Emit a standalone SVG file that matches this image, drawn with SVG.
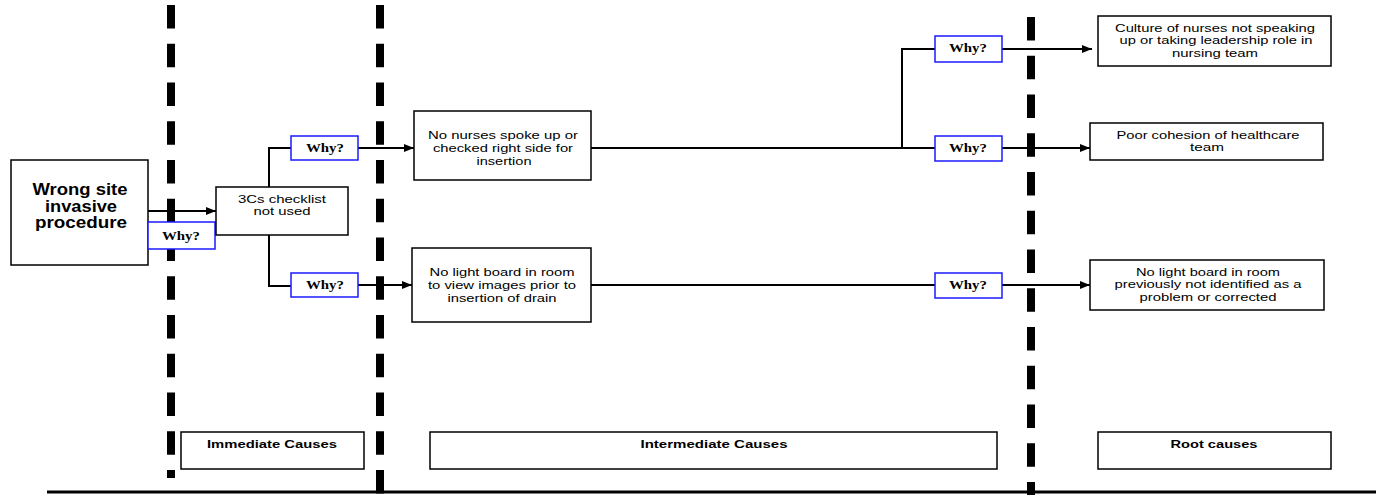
<svg xmlns="http://www.w3.org/2000/svg" width="1376" height="495" viewBox="0 0 1376 495">
<style>
.box{fill:#fff;stroke:#000;stroke-width:1.5}
.why{fill:#fff;stroke:#1a1aff;stroke-width:1.5}
.t{font-family:"Liberation Sans",Arial,sans-serif;font-size:11.5px;fill:#000;text-anchor:middle}
.tb{font-family:"Liberation Sans",Arial,sans-serif;font-size:11.5px;font-weight:bold;fill:#000;text-anchor:middle}
.main{font-family:"Liberation Sans",Arial,sans-serif;font-size:16px;font-weight:bold;fill:#000;text-anchor:middle}
.w{font-family:"Liberation Serif","Times New Roman",serif;font-size:12px;font-weight:bold;fill:#000;text-anchor:middle}
.c{fill:none;stroke:#000;stroke-width:2}
.dash{stroke:#000;stroke-width:8;stroke-dasharray:23.5 15.25}
</style>
<defs>
<marker id="ah" markerWidth="10" markerHeight="8" refX="10" refY="4" orient="auto" markerUnits="userSpaceOnUse">
<path d="M0,0 L10,4 L0,8 Z" fill="#000"/>
</marker>
</defs>
<rect width="1376" height="495" fill="#fff"/>
<g id="dividers">
<line class="dash" x1="171" y1="5" x2="171" y2="478"/>
<line class="dash" x1="380" y1="5" x2="380" y2="495"/>
<line class="dash" x1="1031" y1="17" x2="1031" y2="495"/>
<line x1="47" y1="492" x2="1376" y2="492" stroke="#000" stroke-width="3"/>
</g>
<g id="connectors">
<line class="c" x1="148" y1="211" x2="216" y2="211" marker-end="url(#ah)"/>
<polyline class="c" points="291,148 269,148 269,286 291,286"/>
<line class="c" x1="358" y1="148" x2="414" y2="148" marker-end="url(#ah)"/>
<line class="c" x1="358" y1="285" x2="412" y2="285" marker-end="url(#ah)"/>
<line class="c" x1="591" y1="148" x2="935" y2="148"/>
<polyline class="c" points="902,148 902,49 935,49"/>
<line class="c" x1="1002" y1="49" x2="1092" y2="49" marker-end="url(#ah)"/>
<line class="c" x1="1002" y1="148" x2="1090" y2="148" marker-end="url(#ah)"/>
<line class="c" x1="591" y1="285" x2="935" y2="285"/>
<line class="c" x1="1002" y1="285" x2="1090" y2="285" marker-end="url(#ah)"/>
</g>
<g id="n-wrong">
<rect class="box" x="11" y="160" width="137" height="105"/>
<text class="main" x="80" y="195" textLength="95" lengthAdjust="spacingAndGlyphs">Wrong site</text>
<text class="main" x="81" y="212" textLength="72" lengthAdjust="spacingAndGlyphs">invasive</text>
<text class="main" x="81" y="228" textLength="92" lengthAdjust="spacingAndGlyphs">procedure</text>
</g>
<g id="why1">
<rect class="why" x="148" y="222" width="67" height="27"/>
<text class="w" x="181" y="240" textLength="38" lengthAdjust="spacingAndGlyphs">Why?</text>
</g>
<g id="n-3cs">
<rect class="box" x="216" y="187" width="132" height="48"/>
<text class="t" x="282" y="203" textLength="88" lengthAdjust="spacingAndGlyphs">3Cs checklist</text>
<text class="t" x="282" y="215" textLength="57" lengthAdjust="spacingAndGlyphs">not used</text>
</g>
<g id="why2">
<rect class="why" x="291" y="136" width="67" height="24"/>
<text class="w" x="325" y="152" textLength="38" lengthAdjust="spacingAndGlyphs">Why?</text>
</g>
<g id="why3">
<rect class="why" x="291" y="273" width="67" height="24"/>
<text class="w" x="325" y="289" textLength="38" lengthAdjust="spacingAndGlyphs">Why?</text>
</g>
<g id="n-nurses">
<rect class="box" x="414" y="111" width="177" height="69"/>
<text class="t" x="503" y="139" textLength="150" lengthAdjust="spacingAndGlyphs">No nurses spoke up or</text>
<text class="t" x="503" y="152" textLength="140" lengthAdjust="spacingAndGlyphs">checked right side for</text>
<text class="t" x="504" y="165" textLength="55" lengthAdjust="spacingAndGlyphs">insertion</text>
</g>
<g id="n-light">
<rect class="box" x="412" y="248" width="179" height="74"/>
<text class="t" x="502" y="276" textLength="145" lengthAdjust="spacingAndGlyphs">No light board in room</text>
<text class="t" x="502" y="289" textLength="148" lengthAdjust="spacingAndGlyphs">to view images prior to</text>
<text class="t" x="502" y="302" textLength="109" lengthAdjust="spacingAndGlyphs">insertion of drain</text>
</g>
<g id="why4">
<rect class="why" x="935" y="36" width="67" height="26"/>
<text class="w" x="968" y="52" textLength="38" lengthAdjust="spacingAndGlyphs">Why?</text>
</g>
<g id="why5">
<rect class="why" x="935" y="136" width="67" height="25"/>
<text class="w" x="968" y="152" textLength="38" lengthAdjust="spacingAndGlyphs">Why?</text>
</g>
<g id="why6">
<rect class="why" x="935" y="273" width="67" height="25"/>
<text class="w" x="968" y="289" textLength="38" lengthAdjust="spacingAndGlyphs">Why?</text>
</g>
<g id="n-culture">
<rect class="box" x="1098" y="16" width="233" height="50"/>
<text class="t" x="1215" y="32" textLength="200" lengthAdjust="spacingAndGlyphs">Culture of nurses not speaking</text>
<text class="t" x="1216" y="44" textLength="193" lengthAdjust="spacingAndGlyphs">up or taking leadership role in</text>
<text class="t" x="1215" y="57" textLength="86" lengthAdjust="spacingAndGlyphs">nursing team</text>
</g>
<g id="n-cohesion">
<rect class="box" x="1090" y="123" width="233" height="37"/>
<text class="t" x="1208" y="139" textLength="183" lengthAdjust="spacingAndGlyphs">Poor cohesion of healthcare</text>
<text class="t" x="1207" y="151" textLength="34" lengthAdjust="spacingAndGlyphs">team</text>
</g>
<g id="n-lightroot">
<rect class="box" x="1090" y="260" width="234" height="50"/>
<text class="t" x="1208" y="276" textLength="144" lengthAdjust="spacingAndGlyphs">No light board in room</text>
<text class="t" x="1208" y="288" textLength="187" lengthAdjust="spacingAndGlyphs">previously not identified as a</text>
<text class="t" x="1208" y="301" textLength="137" lengthAdjust="spacingAndGlyphs">problem or corrected</text>
</g>
<g id="lbl-immediate">
<rect class="box" x="181" y="432" width="183" height="37"/>
<text class="tb" x="272" y="448" textLength="130" lengthAdjust="spacingAndGlyphs">Immediate Causes</text>
</g>
<g id="lbl-intermediate">
<rect class="box" x="430" y="432" width="567" height="37"/>
<text class="tb" x="714" y="448" textLength="147" lengthAdjust="spacingAndGlyphs">Intermediate Causes</text>
</g>
<g id="lbl-root">
<rect class="box" x="1098" y="432" width="233" height="37"/>
<text class="tb" x="1214" y="448" textLength="87" lengthAdjust="spacingAndGlyphs">Root causes</text>
</g>
</svg>
